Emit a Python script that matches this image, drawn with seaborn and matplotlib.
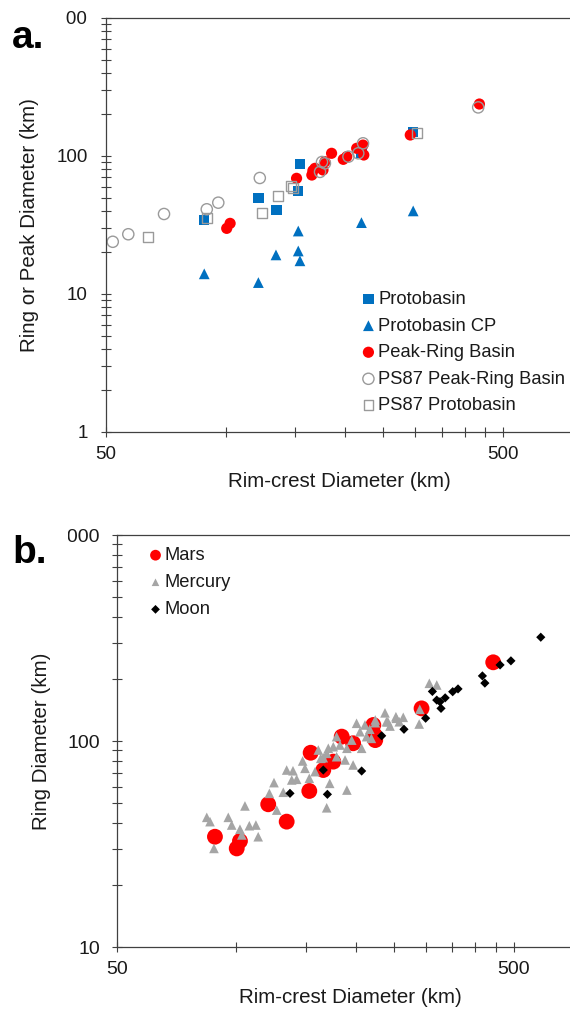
import numpy as np
import pandas as pd
import seaborn as sns
import matplotlib.pyplot as plt
from matplotlib.ticker import LogLocator, NullFormatter
from matplotlib.patches import Rectangle

# ---- panel a data (rim-crest diameter, ring/peak diameter) ----
proto_x = [88.4, 121, 134.5, 154, 152.5, 220, 297]
proto_y = [34.4, 49.4, 40.6, 87, 56, 104.6, 150]

protocp_x = [88.4, 121, 134, 152.5, 152.5, 154, 220, 297]
protocp_y = [14.0, 12.1, 19.2, 28.6, 20.5, 17.4, 32.9, 40]

peak_x = [100.7, 102.7, 151, 165, 166, 168, 176, 178, 185, 198, 202, 214, 222, 223, 292, 436]
peak_y = [29.9, 32.5, 68.9, 72.8, 78.3, 81.4, 79.2, 90.9, 104.6, 94.6, 98.9, 113.7, 120, 101.7, 142, 238]

ps87_peak_x = [52, 56.9, 70, 89.7, 95.9, 122, 173, 178, 175, 204, 216, 222, 433]
ps87_peak_y = [23.9, 27.1, 38, 41.1, 45.9, 69.3, 76.7, 88.5, 90.5, 98.9, 104.6, 123.6, 225]

ps87_proto_x = [63.9, 89.7, 123.3, 135.4, 146, 147.7, 303]
ps87_proto_y = [26, 35.4, 38.8, 51.3, 60.6, 58.3, 146]

# ---- panel b data ----
mars_x = [88.4, 102.2, 100.3, 120.4, 134, 152.8, 154, 165.7, 175.6, 184.4, 197, 221.5, 224, 223, 293, 444]
mars_y = [34.3, 32.7, 30.1, 49.3, 40.6, 57.2, 87.7, 72.3, 79.4, 105, 97.5, 119.6, 101, 107, 144, 241]

mercury_x = [84.3, 85.9, 87.9, 95.5, 97.4, 102.2, 103.3, 107.9, 112.1, 113.6, 105.2, 121.2, 126.5,
             124.5, 131.4, 134, 139, 138, 142, 147, 149, 152.8, 158, 161, 163.3, 169, 172, 169,
             170.6, 175.6, 179, 182.5, 188, 190, 190, 195.4, 197, 201, 205, 207, 211, 213, 217,
             219, 224, 237, 239, 244, 252.5, 257.5, 263.5, 289, 290, 306.5, 320, 241, 253, 165.7,
             179, 224]
mercury_y = [42.6, 40.6, 30.1, 42.6, 39.1, 37.3, 35.0, 38.8, 39.1, 34.3, 48.4, 55.7, 46.2,
             62.8, 56.4, 72.3, 71.7, 64.7, 65.2, 80, 73.7, 65.9, 71, 90.4, 82.4, 87.1, 62.3, 47.4,
             92.2, 93.8, 83.9, 95.6, 80.9, 92.2, 57.8, 101, 76.5, 121.9, 110.9, 92.2, 119.6, 105, 114,
             103, 122.7, 137, 124, 118.2, 131.2, 124, 130.3, 120.9, 142.5, 190.6, 187, 124, 128.9, 83,
             105, 126.5]

moon_x = [136.6, 169.7, 165.7, 207, 232.5, 264.6, 300, 312, 320, 326, 328, 336, 351, 362,
          417, 423, 462, 492, 585]
moon_y = [55.7, 55.1, 72.3, 71.5, 106, 114, 129, 174, 158, 155, 144, 162, 173.5, 179,
          207, 191, 234, 245, 319]

xtick_major = [50, 500]
xtick_labels = ['50', '500']
xtick_minor = list(range(100, 500, 50))
ytick_a = [1, 10, 100, 1000]
ytick_a_labels = ['1', '10', '100', '1000']
ytick_b = [10, 100, 1000]
ytick_b_labels = ['10', '100', '1000']

sns.set_style('white')
plt.rcParams['font.family'] = ['Liberation Sans', 'DejaVu Sans']

W, H = 570, 1011
fig = plt.figure(figsize=(W / 100, H / 100), dpi=100)

axcol = '#404040'
txtcol = '#1a1a1a'


def style_axis(ax, yt, ytl, ypad, lsize):
    ax.set_xscale('log')
    ax.set_yscale('log')
    ax.set_xticks(xtick_major)
    ax.set_xticklabels(xtick_labels)
    ax.set_xticks(xtick_minor, minor=True)
    ax.xaxis.set_minor_formatter(NullFormatter())
    ax.set_yticks(yt)
    ax.set_yticklabels(ytl)
    ax.yaxis.set_minor_locator(LogLocator(base=10, subs=np.arange(2, 10)))
    ax.yaxis.set_minor_formatter(NullFormatter())
    ax.tick_params(which='both', direction='inout', length=6.5, width=0.8, color=axcol,
                   labelsize=lsize, labelcolor=txtcol, bottom=True, left=True,
                   top=False, right=False)
    ax.tick_params(axis='y', which='major', pad=ypad)
    ax.tick_params(axis='x', which='major', pad=7)
    for s in ['left', 'bottom', 'top']:
        ax.spines[s].set_color(axcol)
        ax.spines[s].set_linewidth(0.9)
    ax.spines['right'].set_visible(False)
    ax.grid(False)


# ---------------- panel a ----------------
axa = fig.add_axes([106 / W, 1 - 432 / H, (W - 106) / W, 414 / H])
sns.scatterplot(x=proto_x, y=proto_y, marker='s', s=55, color='#0070c0', edgecolor='none',
                label='Protobasin', ax=axa)
sns.scatterplot(x=protocp_x, y=protocp_y, marker='^', s=60, color='#0070c0', edgecolor='none',
                label='Protobasin CP', ax=axa)
sns.scatterplot(x=peak_x, y=peak_y, marker='o', s=65, color='#ff0000', edgecolor='none',
                label='Peak-Ring Basin', ax=axa)
sns.scatterplot(x=ps87_peak_x, y=ps87_peak_y, marker='o', s=65, color='#9a9a9a', facecolor='none',
                edgecolor='#9a9a9a', linewidth=1.0, label='PS87 Peak-Ring Basin', ax=axa)
sns.scatterplot(x=ps87_proto_x, y=ps87_proto_y, marker='s', s=50, color='#9a9a9a', facecolor='none',
                edgecolor='#9a9a9a', linewidth=1.0, label='PS87 Protobasin', ax=axa)
style_axis(axa, ytick_a, ytick_a_labels, 10, 13.5)
axa.set_xlim(50, 50 * 10 ** ((W - 106) / 397))
axa.set_ylim(1, 1000)
axa.set_xlabel('Rim-crest Diameter (km)', fontsize=14.8, color=txtcol)
axa.set_ylabel('Ring or Peak Diameter (km)', fontsize=14.8, color=txtcol)
axa.xaxis.set_label_coords(0.504, -0.097)
axa.yaxis.set_label_coords(-0.144, 0.5)
lega = axa.legend(loc='upper left', bbox_to_anchor=(362 / W, 1 - 291 / H),
                  bbox_transform=fig.transFigure, frameon=False, fontsize=13.2,
                  handlelength=0.7, handletextpad=0.2, labelspacing=0.52, borderpad=0,
                  borderaxespad=0, scatterpoints=1)
for t in lega.get_texts():
    t.set_color(txtcol)

# ---------------- panel b ----------------
axb = fig.add_axes([116.7 / W, 1 - 947 / H, (W - 116.7) / W, 412 / H])
sns.scatterplot(x=mars_x, y=mars_y, marker='o', s=130, color='#ff0000', edgecolor='none',
                label='Mars', ax=axb)
sns.scatterplot(x=mercury_x, y=mercury_y, marker='^', s=48, color='#a5a5a5', edgecolor='none',
                label='Mercury', ax=axb)
sns.scatterplot(x=moon_x, y=moon_y, marker='D', s=22, color='#000000', edgecolor='none',
                label='Moon', ax=axb)
style_axis(axb, ytick_b, ytick_b_labels, 8.5, 14)
axb.set_xlim(50, 50 * 10 ** ((W - 116.7) / 397))
axb.set_ylim(10, 1000)
axb.set_xlabel('Rim-crest Diameter (km)', fontsize=14.8, color=txtcol)
axb.set_ylabel('Ring Diameter (km)', fontsize=14.8, color=txtcol)
axb.xaxis.set_label_coords(0.515, -0.1)
axb.yaxis.set_label_coords(-0.145, 0.5)
legb = axb.legend(loc='upper left', bbox_to_anchor=(150 / W, 1 - 547 / H),
                  bbox_transform=fig.transFigure, frameon=False, fontsize=13.2,
                  handlelength=0.6, handletextpad=0.2, labelspacing=0.55, borderpad=0,
                  borderaxespad=0, scatterpoints=1)
for h, sz in zip(legb.legend_handles, [60, 30, 20]):
    h.set_sizes([sz])
for t in legb.get_texts():
    t.set_color(txtcol)

# white boxes behind the panel letters (they hide the start of the top tick label)
fig.patches.append(Rectangle((0, 1 - 55 / H), 66 / W, 55 / H, transform=fig.transFigure,
                             facecolor='white', edgecolor='none', zorder=1))
fig.patches.append(Rectangle((0, 1 - 572 / H), 67.5 / W, 57 / H, transform=fig.transFigure,
                             facecolor='white', edgecolor='none', zorder=1))
fig.text(12 / W, 1 - 48 / H, 'a.', fontsize=28, fontweight='bold', va='baseline', color='black')
fig.text(12 / W, 1 - 563 / H, 'b.', fontsize=28, fontweight='bold', va='baseline', color='black')

fig.savefig('out.png', dpi=100)
